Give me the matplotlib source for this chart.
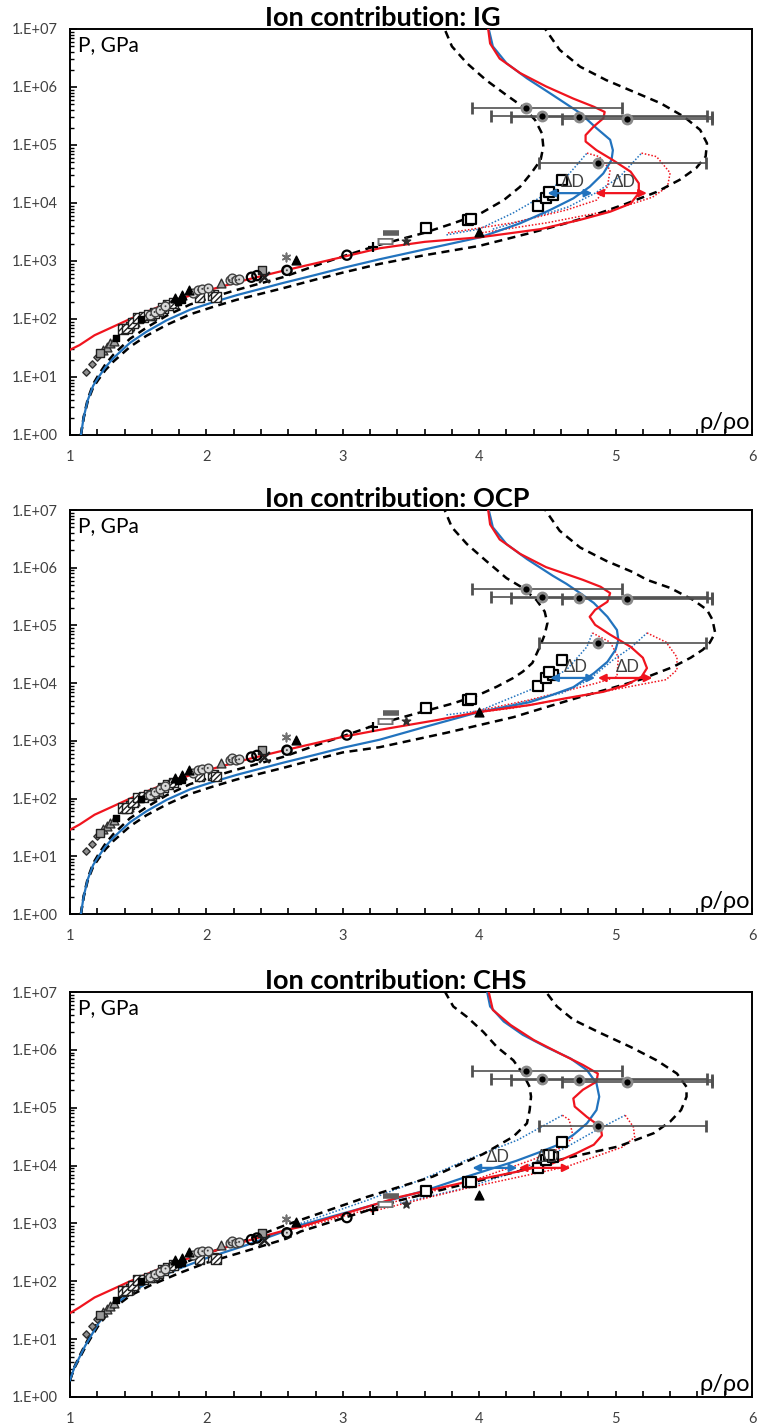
import numpy as np
import matplotlib
matplotlib.use('Agg')
import matplotlib.pyplot as plt
from matplotlib.ticker import FixedLocator, LogLocator, MultipleLocator, NullFormatter

FONT = ['Lato', 'DejaVu Sans']
plt.rcParams['font.family'] = FONT

# ---------------- axis labels ----------------
X_TICKS = [1, 2, 3, 4, 5, 6]
Y_TICKS = [1e0, 1e1, 1e2, 1e3, 1e4, 1e5, 1e6, 1e7]
Y_TICK_LABELS = ['1.E+00', '1.E+01', '1.E+02', '1.E+03', '1.E+04', '1.E+05', '1.E+06', '1.E+07']
TITLES = ['Ion contribution: IG', 'Ion contribution: OCP', 'Ion contribution: CHS']

# ---------------- experimental data (same in every panel) ----------------
sq_x = [3.61, 3.92, 3.94, 4.43, 4.49, 4.54, 4.51, 4.61]
sq_p = [3700, 5130, 5250, 8900, 12300, 13800, 15500, 25100]
tri_x = [1.77, 1.82, 1.87, 2.66, 4.00]
tri_p = [229, 257, 316, 1050, 3160]
circ_x = [2.33, 2.37, 2.59, 3.03]
circ_p = [525, 560, 690, 1260]
plus_x = [3.22]
plus_p = [1740]
rect_open_x = [3.31]
rect_open_p = [2190]
rect_fill_x = [3.35]
rect_fill_p = [3000]
star_x = [3.46]
star_p = [2190]
cross_x = [2.42]
cross_p = [525]
aster_x = [2.58]
aster_p = [1175]
gsq_x = [1.22, 1.44, 1.60, 1.65, 2.41]
gsq_p = [25.7, 76, 112, 132, 690]
dotc_x = [1.59, 1.62, 1.66, 1.70, 1.90, 1.94, 1.97, 2.01, 2.17, 2.19, 2.22, 2.24, 2.59]
dotc_p = [117, 132, 145, 166, 282, 316, 331, 339, 468, 501, 468, 480, 692]
hatch_x = [1.39, 1.42, 1.46, 1.50, 1.54, 1.58, 1.62, 1.68, 1.72, 1.76, 1.95, 2.05, 2.07]
hatch_p = [68, 69, 85, 105, 107, 117, 126, 155, 174, 190, 240, 257, 240]
diam_x = [1.12, 1.16, 1.20]
diam_p = [12.3, 16.6, 22.4]
gtri_x = [1.24, 1.27, 1.29, 1.32, 1.43, 1.48, 2.11]
gtri_p = [29.5, 33, 38, 41.7, 72, 89, 417]
bsq_x = [1.34, 1.52, 1.79, 1.82]
bsq_p = [46.8, 100, 200, 209]

# points with horizontal error bars
eb_x = [4.34, 4.46, 4.73, 5.08, 4.87]
eb_p = [436000, 316000, 302000, 282000, 49000]
eb_xlo = [3.95, 4.09, 4.23, 4.61, 4.44]
eb_xhi = [5.05, 5.67, 5.71, 5.71, 5.66]

# ---------------- model curves: x = rho/rho0, lp = log10(P, GPa) ----------------
# Panel 1: IG
ig_blue_x = [1.08, 1.10, 1.13, 1.17, 1.21, 1.26, 1.32, 1.44, 1.56, 1.71, 1.88, 2.05, 2.22, 2.56, 2.80, 3.00, 3.27, 3.60, 4.01, 4.30, 4.52, 4.69, 4.81, 4.91, 4.97, 4.98, 4.96, 4.86, 4.74, 4.54, 4.35, 4.20, 4.10, 4.06]
ig_blue_lp = [0.00, 0.30, 0.60, 0.85, 1.00, 1.17, 1.33, 1.59, 1.78, 1.98, 2.16, 2.29, 2.41, 2.62, 2.76, 2.88, 3.03, 3.20, 3.41, 3.65, 3.88, 4.08, 4.28, 4.51, 4.74, 4.91, 5.09, 5.29, 5.55, 5.86, 6.15, 6.41, 6.70, 7.10]
ig_red_x = [1.00, 1.07, 1.18, 1.31, 1.44, 1.56, 1.76, 2.05, 2.30, 2.56, 2.80, 3.00, 3.27, 3.60, 4.01, 4.45, 4.74, 4.96, 5.11, 5.17, 5.17, 5.11, 4.98, 4.86, 4.78, 4.78, 4.84, 4.91, 4.92, 4.84, 4.69, 4.49, 4.30, 4.15, 4.08, 4.06]
ig_red_lp = [1.47, 1.55, 1.72, 1.86, 2.00, 2.12, 2.32, 2.52, 2.68, 2.83, 2.96, 3.07, 3.22, 3.33, 3.41, 3.55, 3.71, 3.85, 3.99, 4.17, 4.34, 4.54, 4.74, 4.91, 5.06, 5.17, 5.32, 5.46, 5.57, 5.66, 5.80, 6.01, 6.24, 6.49, 6.75, 7.10]
ig_dl_x = [1.08, 1.10, 1.13, 1.17, 1.21, 1.26, 1.32, 1.44, 1.56, 1.71, 1.88, 2.05, 2.22, 2.56, 2.80, 3.00, 3.27, 3.59, 3.81, 4.01, 4.18, 4.30, 4.38, 4.45, 4.47, 4.46, 4.41, 4.32, 4.20, 4.05, 3.91, 3.80, 3.75, 3.73]
ig_dl_lp = [0.00, 0.31, 0.62, 0.88, 1.04, 1.22, 1.39, 1.66, 1.85, 2.06, 2.25, 2.38, 2.50, 2.72, 2.92, 3.08, 3.28, 3.48, 3.65, 3.82, 4.05, 4.28, 4.51, 4.74, 4.97, 5.20, 5.43, 5.66, 5.86, 6.12, 6.41, 6.70, 6.98, 7.10]
ig_dr_x = [1.08, 1.10, 1.13, 1.17, 1.21, 1.26, 1.32, 1.44, 1.56, 1.71, 1.88, 2.05, 2.22, 2.56, 2.80, 3.00, 3.27, 3.60, 4.00, 4.37, 4.59, 4.84, 5.08, 5.30, 5.47, 5.59, 5.66, 5.67, 5.62, 5.50, 5.33, 5.13, 4.93, 4.74, 4.59, 4.49, 4.46]
ig_dr_lp = [0.00, 0.29, 0.58, 0.82, 0.96, 1.12, 1.27, 1.52, 1.71, 1.90, 2.08, 2.21, 2.33, 2.53, 2.68, 2.80, 2.95, 3.10, 3.26, 3.48, 3.62, 3.79, 3.99, 4.19, 4.40, 4.60, 4.80, 5.03, 5.26, 5.49, 5.72, 5.92, 6.12, 6.35, 6.64, 6.98, 7.10]
ig_bd1_x = [3.76, 4.00, 4.25, 4.45, 4.64, 4.79]
ig_bd1_lp = [3.45, 3.55, 3.83, 4.10, 4.45, 4.86]
ig_rd1_x = [4.79, 4.88, 4.96, 4.94, 4.86, 4.64, 4.25, 3.76]
ig_rd1_lp = [4.86, 4.80, 4.57, 4.28, 4.05, 3.88, 3.66, 3.48]
ig_bd2_x = [4.10, 4.40, 4.65, 4.85, 5.03, 5.19]
ig_bd2_lp = [3.55, 3.75, 3.93, 4.17, 4.45, 4.86]
ig_rd2_x = [5.19, 5.30, 5.40, 5.38, 5.27, 4.98, 4.50, 4.00]
ig_rd2_lp = [4.86, 4.80, 4.52, 4.28, 4.10, 3.88, 3.66, 3.48]
ig_arrow_b = [4.50, 4.83]
ig_arrow_r = [4.85, 5.23]
ig_arrow_lp = 4.17

# Panel 2: OCP
ocp_blue_x = [1.08, 1.10, 1.13, 1.17, 1.21, 1.26, 1.32, 1.44, 1.56, 1.71, 1.88, 2.05, 2.22, 2.56, 2.80, 3.00, 3.27, 3.60, 4.00, 4.20, 4.37, 4.54, 4.69, 4.84, 4.94, 5.00, 5.02, 5.01, 4.94, 4.84, 4.74, 4.64, 4.54, 4.35, 4.20, 4.10, 4.06]
ocp_blue_lp = [0.00, 0.30, 0.60, 0.85, 1.00, 1.17, 1.33, 1.59, 1.78, 1.98, 2.16, 2.29, 2.41, 2.62, 2.76, 2.88, 3.02, 3.24, 3.50, 3.59, 3.67, 3.80, 3.93, 4.17, 4.37, 4.58, 4.75, 4.92, 5.15, 5.39, 5.56, 5.72, 5.86, 6.15, 6.41, 6.70, 7.10]
ocp_red_x = [1.00, 1.07, 1.18, 1.31, 1.44, 1.56, 1.76, 2.05, 2.30, 2.56, 2.80, 3.00, 3.27, 3.69, 4.00, 4.37, 4.64, 4.91, 5.08, 5.19, 5.23, 5.20, 5.11, 4.96, 4.85, 4.81, 4.85, 4.94, 4.96, 4.89, 4.76, 4.49, 4.30, 4.15, 4.08, 4.06]
ocp_red_lp = [1.46, 1.55, 1.72, 1.86, 2.00, 2.12, 2.32, 2.52, 2.68, 2.83, 2.96, 3.07, 3.19, 3.36, 3.50, 3.62, 3.74, 3.85, 3.97, 4.11, 4.26, 4.44, 4.63, 4.84, 5.01, 5.15, 5.27, 5.41, 5.56, 5.67, 5.79, 6.01, 6.24, 6.49, 6.75, 7.10]
ocp_dl_x = [1.08, 1.10, 1.13, 1.17, 1.21, 1.26, 1.32, 1.44, 1.56, 1.71, 1.88, 2.05, 2.22, 2.56, 2.80, 3.00, 3.27, 3.64, 3.81, 4.00, 4.13, 4.25, 4.32, 4.39, 4.45, 4.48, 4.50, 4.48, 4.42, 4.32, 4.20, 4.05, 3.91, 3.80, 3.75, 3.73]
ocp_dl_lp = [0.00, 0.31, 0.62, 0.88, 1.04, 1.22, 1.39, 1.66, 1.85, 2.06, 2.25, 2.38, 2.50, 2.72, 2.92, 3.08, 3.30, 3.54, 3.65, 3.80, 3.94, 4.09, 4.20, 4.35, 4.66, 4.84, 5.04, 5.24, 5.44, 5.65, 5.82, 6.12, 6.41, 6.70, 6.98, 7.10]
ocp_dr_x = [1.08, 1.10, 1.13, 1.17, 1.21, 1.26, 1.32, 1.44, 1.56, 1.71, 1.88, 2.05, 2.22, 2.56, 2.80, 3.00, 3.27, 3.76, 4.25, 4.50, 4.74, 4.98, 5.18, 5.42, 5.55, 5.64, 5.69, 5.73, 5.71, 5.67, 5.57, 5.40, 5.23, 5.13, 4.93, 4.74, 4.59, 4.49, 4.46]
ocp_dr_lp = [0.00, 0.29, 0.58, 0.82, 0.96, 1.12, 1.27, 1.52, 1.71, 1.90, 2.08, 2.21, 2.33, 2.53, 2.68, 2.80, 2.89, 3.14, 3.41, 3.59, 3.76, 3.92, 4.06, 4.28, 4.44, 4.58, 4.70, 4.87, 5.10, 5.27, 5.44, 5.65, 5.79, 5.92, 6.12, 6.35, 6.64, 6.98, 7.10]
ocp_bd1_x = [3.76, 4.00, 4.37, 4.64, 4.79, 4.83]
ocp_bd1_lp = [3.45, 3.52, 3.88, 4.23, 4.63, 4.87]
ocp_rd1_x = [4.83, 4.96, 5.02, 5.01, 4.86, 4.37, 3.95]
ocp_rd1_lp = [4.87, 4.71, 4.45, 4.11, 4.00, 3.71, 3.50]
ocp_bd2_x = [4.10, 4.61, 4.80, 4.98, 5.12, 5.23]
ocp_bd2_lp = [3.55, 3.83, 4.05, 4.40, 4.63, 4.87]
ocp_rd2_x = [5.23, 5.37, 5.45, 5.45, 5.37, 4.86, 4.25, 3.95]
ocp_rd2_lp = [4.87, 4.71, 4.45, 4.23, 4.06, 3.83, 3.57, 3.48]
ocp_arrow_b = [4.52, 4.85]
ocp_arrow_r = [4.87, 5.27]
ocp_arrow_lp = 4.09

# Panel 3: CHS
chs_blue_x = [1.00, 1.03, 1.07, 1.11, 1.15, 1.21, 1.29, 1.44, 1.59, 1.80, 2.00, 2.30, 2.59, 2.69, 3.18, 3.62, 3.91, 4.27, 4.43, 4.57, 4.69, 4.79, 4.86, 4.88, 4.86, 4.79, 4.67, 4.49, 4.32, 4.18, 4.08, 4.05]
chs_blue_lp = [0.29, 0.50, 0.69, 0.88, 1.04, 1.28, 1.52, 1.80, 2.00, 2.22, 2.40, 2.63, 2.88, 2.97, 3.29, 3.58, 3.81, 4.08, 4.22, 4.35, 4.53, 4.73, 4.96, 5.19, 5.42, 5.65, 5.85, 6.05, 6.26, 6.49, 6.75, 7.10]
chs_red_x = [1.00, 1.07, 1.18, 1.31, 1.44, 1.56, 1.76, 2.05, 2.30, 2.59, 2.69, 3.42, 3.91, 4.27, 4.54, 4.71, 4.84, 4.90, 4.89, 4.79, 4.70, 4.69, 4.76, 4.86, 4.87, 4.76, 4.59, 4.40, 4.23, 4.10, 4.06]
chs_red_lp = [1.45, 1.55, 1.72, 1.86, 2.00, 2.12, 2.32, 2.52, 2.70, 2.89, 2.94, 3.46, 3.72, 3.89, 4.04, 4.21, 4.36, 4.52, 4.67, 4.84, 5.02, 5.16, 5.31, 5.45, 5.59, 5.74, 5.94, 6.17, 6.43, 6.69, 7.10]
chs_dl_x = [1.00, 1.03, 1.07, 1.11, 1.15, 1.21, 1.29, 1.44, 1.59, 1.80, 2.00, 2.30, 2.59, 2.69, 3.18, 3.66, 4.03, 4.25, 4.35, 4.37, 4.38, 4.37, 4.32, 4.25, 4.13, 4.03, 3.91, 3.81, 3.75, 3.73]
chs_dl_lp = [0.29, 0.51, 0.71, 0.90, 1.07, 1.32, 1.57, 1.86, 2.06, 2.28, 2.48, 2.72, 2.98, 3.06, 3.46, 3.81, 4.20, 4.50, 4.73, 4.96, 5.19, 5.36, 5.59, 5.82, 6.05, 6.31, 6.57, 6.75, 7.00, 7.10]
chs_dr_x = [1.00, 1.03, 1.07, 1.11, 1.15, 1.21, 1.29, 1.44, 1.59, 1.80, 2.00, 2.30, 2.59, 2.69, 3.42, 3.91, 4.27, 4.64, 5.02, 5.28, 5.40, 5.48, 5.52, 5.52, 5.45, 5.30, 5.11, 4.89, 4.69, 4.57, 4.49, 4.47]
chs_dr_lp = [0.29, 0.49, 0.67, 0.85, 1.01, 1.24, 1.48, 1.75, 1.93, 2.14, 2.32, 2.53, 2.74, 2.86, 3.40, 3.69, 3.89, 4.13, 4.33, 4.56, 4.76, 4.96, 5.19, 5.36, 5.59, 5.82, 6.05, 6.29, 6.52, 6.75, 7.00, 7.10]
chs_bd1_x = [2.69, 3.18, 3.60, 3.91, 4.28, 4.61]
chs_bd1_lp = [3.00, 3.40, 3.78, 4.10, 4.44, 4.87]
chs_rd1_x = [4.61, 4.66, 4.69, 4.61, 4.39, 4.00, 3.42, 2.69]
chs_rd1_lp = [4.87, 4.79, 4.49, 4.32, 4.10, 3.78, 3.40, 2.92]
chs_bd2_x = [3.42, 3.91, 4.28, 4.64, 4.85, 5.07]
chs_bd2_lp = [3.35, 3.62, 3.90, 4.32, 4.60, 4.87]
chs_rd2_x = [5.07, 5.13, 5.14, 5.05, 4.64, 3.91, 3.20]
chs_rd2_lp = [4.87, 4.67, 4.49, 4.32, 3.98, 3.61, 3.20]
chs_arrow_b = [3.95, 4.28]
chs_arrow_r = [4.29, 4.67]
chs_arrow_lp = 3.96

PANELS = [
    dict(title=TITLES[0], top=29, bottom=435,
         blue=(ig_blue_x, ig_blue_lp), red=(ig_red_x, ig_red_lp),
         dl=(ig_dl_x, ig_dl_lp), dr=(ig_dr_x, ig_dr_lp),
         bd=[(ig_bd1_x, ig_bd1_lp), (ig_bd2_x, ig_bd2_lp)],
         rd=[(ig_rd1_x, ig_rd1_lp), (ig_rd2_x, ig_rd2_lp)],
         ab=ig_arrow_b, ar=ig_arrow_r, alp=ig_arrow_lp),
    dict(title=TITLES[1], top=510, bottom=914,
         blue=(ocp_blue_x, ocp_blue_lp), red=(ocp_red_x, ocp_red_lp),
         dl=(ocp_dl_x, ocp_dl_lp), dr=(ocp_dr_x, ocp_dr_lp),
         bd=[(ocp_bd1_x, ocp_bd1_lp), (ocp_bd2_x, ocp_bd2_lp)],
         rd=[(ocp_rd1_x, ocp_rd1_lp), (ocp_rd2_x, ocp_rd2_lp)],
         ab=ocp_arrow_b, ar=ocp_arrow_r, alp=ocp_arrow_lp),
    dict(title=TITLES[2], top=992, bottom=1397,
         blue=(chs_blue_x, chs_blue_lp), red=(chs_red_x, chs_red_lp),
         dl=(chs_dl_x, chs_dl_lp), dr=(chs_dr_x, chs_dr_lp),
         bd=[(chs_bd1_x, chs_bd1_lp), (chs_bd2_x, chs_bd2_lp)],
         rd=[(chs_rd1_x, chs_rd1_lp), (chs_rd2_x, chs_rd2_lp)],
         ab=chs_arrow_b, ar=chs_arrow_r, alp=chs_arrow_lp),
]

BLUE = '#2273BE'
RED = '#F0141E'
GRAY_TXT = '#404040'

W, H = 761, 1426
LEFT, RIGHT = 70, 752
fig = plt.figure(figsize=(W / 100, H / 100), dpi=100)


def P(lp):
    return np.power(10.0, np.asarray(lp, dtype=float))


def draw_markers(ax):
    kw = dict(zorder=6, linewidths=1.0)
    ax.scatter(diam_x, diam_p, marker='D', s=14, facecolor='#909090', edgecolor='#303030', **kw)
    ax.scatter(gtri_x, gtri_p, marker='^', s=40, facecolor='#a0a0a0', edgecolor='#303030', **kw)
    ax.scatter(gsq_x, gsq_p, marker='s', s=36, facecolor='#9a9a9a', edgecolor='#202020', **kw)
    ax.scatter(hatch_x, hatch_p, marker='s', s=48, facecolor='white', edgecolor='#202020',
               hatch='//////', **kw)
    ax.scatter(bsq_x, bsq_p, marker='s', s=14, facecolor='black', edgecolor='black', **kw)
    ax.scatter(dotc_x, dotc_p, marker='o', s=40, facecolor='#d8d8d8', edgecolor='#404040', **kw)
    ax.scatter(dotc_x, dotc_p, marker='.', s=8, facecolor='#404040', edgecolor='none', zorder=7)
    ax.scatter(tri_x, tri_p, marker='^', s=40, facecolor='black', edgecolor='black', **kw)
    ax.scatter(circ_x, circ_p, marker='o', s=44, facecolor='none', edgecolor='black',
               zorder=6, linewidths=1.6)
    ax.scatter(plus_x, plus_p, marker='+', s=50, color='black', zorder=6, linewidths=1.6)
    ax.plot(rect_open_x, rect_open_p, marker='_', ms=11, mew=5, color='#707070', zorder=6, ls='none')
    ax.plot(rect_open_x, rect_open_p, marker='_', ms=9, mew=2.5, color='white', zorder=6, ls='none')
    ax.plot(rect_fill_x, rect_fill_p, marker='_', ms=11, mew=4, color='#606060', zorder=6, ls='none')
    ax.scatter(star_x, star_p, marker='*', s=40, facecolor='#303030', edgecolor='#303030', **kw)
    ax.scatter(cross_x, cross_p, marker='x', s=60, color='#202020', zorder=6, linewidths=1.8)
    ax.scatter(aster_x, aster_p, marker=(6, 2, 0), s=36, color='#707070', zorder=6, linewidths=1.2)
    ax.scatter(sq_x, sq_p, marker='s', s=48, facecolor='white', edgecolor='black',
               zorder=6, linewidths=1.6)


def draw_panel(ax, c):
    ax.set_yscale('log')
    ax.set_xlim(1, 6)
    ax.set_ylim(1, 1e7)

    for (xx, ll) in c['bd']:
        ax.plot(xx, P(ll), color=BLUE, lw=1.1, ls=(0, (1, 1.2)), zorder=3)
    for (xx, ll) in c['rd']:
        ax.plot(xx, P(ll), color=RED, lw=1.1, ls=(0, (1, 1.2)), zorder=3)
    ax.plot(c['dl'][0], P(c['dl'][1]), color='black', lw=1.8, dashes=(3.2, 2.2), zorder=4)
    ax.plot(c['dr'][0], P(c['dr'][1]), color='black', lw=1.8, dashes=(3.2, 2.2), zorder=4)
    ax.plot(c['blue'][0], P(c['blue'][1]), color=BLUE, lw=1.6, zorder=4)
    ax.plot(c['red'][0], P(c['red'][1]), color=RED, lw=1.6, zorder=4)

    draw_markers(ax)

    xe = np.asarray(eb_x)
    ax.errorbar(eb_x, eb_p, xerr=[xe - np.asarray(eb_xlo), np.asarray(eb_xhi) - xe],
                fmt='o', ms=6.5, mfc='black', mec='#8a8a8a', mew=2.0,
                ecolor='#505050', elinewidth=1.2, capsize=4, capthick=1.0, zorder=7)

    yA = 10 ** c['alp']
    for (x0, x1), col in ((c['ab'], BLUE), (c['ar'], RED)):
        ax.annotate('', xy=(x1, yA), xytext=(x0, yA),
                    arrowprops=dict(arrowstyle='<|-|>,head_length=0.45,head_width=0.22',
                                    color=col, lw=1.6, shrinkA=0, shrinkB=0), zorder=8)
        ax.text((x0 + x1) / 2 + 0.02, yA * 1.12, 'ΔD', ha='center', va='bottom',
                fontsize=12, color=GRAY_TXT, family=FONT, zorder=9)

    ax.set_xticks(X_TICKS)
    ax.set_xticklabels([str(t) for t in X_TICKS])
    ax.xaxis.set_minor_locator(MultipleLocator(0.2))
    ax.yaxis.set_major_locator(FixedLocator(Y_TICKS))
    ax.set_yticklabels(Y_TICK_LABELS)
    ax.yaxis.set_minor_locator(LogLocator(base=10, subs=np.arange(2, 10), numticks=20))
    ax.yaxis.set_minor_formatter(NullFormatter())
    ax.tick_params(axis='x', which='both', direction='in', length=4, width=1.2,
                   pad=11, labelsize=10.5, labelcolor=GRAY_TXT, top=False)
    ax.tick_params(axis='y', which='major', direction='in', length=5, width=1.2,
                   pad=9, labelsize=10.5, labelcolor=GRAY_TXT, right=False)
    ax.tick_params(axis='y', which='minor', direction='in', length=3, width=1.0, right=False)
    for sp in ax.spines.values():
        sp.set_linewidth(1.4)
        sp.set_color('black')

    ax.text(0.012, 0.985, 'P, GPa', transform=ax.transAxes, ha='left', va='top',
            fontsize=15, color='black', family=FONT, zorder=10)
    ax.text(0.997, 0.005, 'ρ/ρo', transform=ax.transAxes, ha='right', va='bottom',
            fontsize=17, color='black', family=FONT, zorder=10)


for c in PANELS:
    top, bottom = c['top'], c['bottom']
    ax = fig.add_axes([LEFT / W, 1 - bottom / H, (RIGHT - LEFT) / W, (bottom - top) / H])
    draw_panel(ax, c)
    fig.text(265 / W, 1 - (top - 3) / H, c['title'], ha='left', va='baseline',
             fontsize=19.5, fontweight='bold', color='black', family=FONT)

fig.savefig('out.png', dpi=100)
